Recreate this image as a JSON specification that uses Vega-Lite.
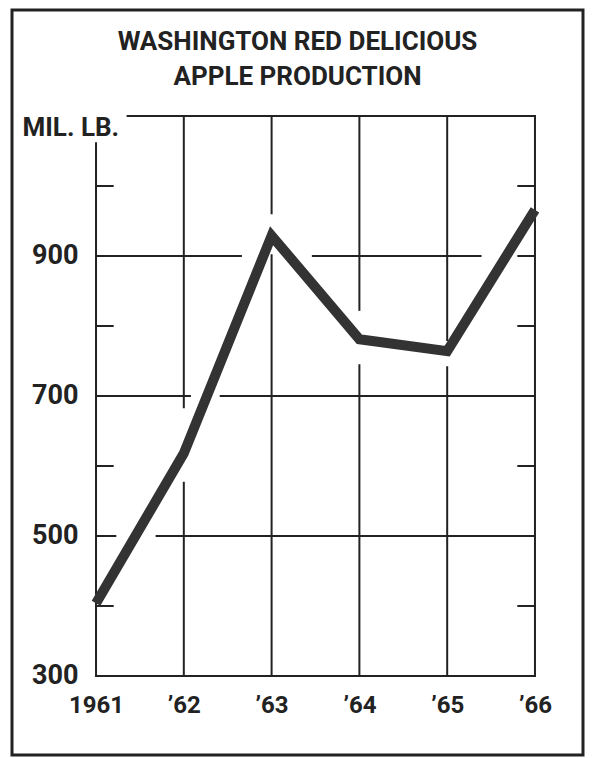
{
  "$schema": "https://vega.github.io/schema/vega-lite/v6.json",
  "width": 571,
  "height": 745,
  "autosize": {"type": "none"},
  "padding": {"left": 12, "top": 10, "right": 9, "bottom": 3},
  "background": "white",
  "config": {
    "view": {"stroke": "#222", "strokeWidth": 3},
    "font": "Roboto"
  },
  "title": {
    "text": ["WASHINGTON RED DELICIOUS", "APPLE PRODUCTION"],
    "frame": "group",
    "anchor": "middle",
    "orient": "top",
    "baseline": "top",
    "offset": -80,
    "lineHeight": 35,
    "fontSize": 26,
    "fontWeight": "bold",
    "color": "#222",
    "font": "Roboto"
  },
  "datasets": {
    "production": [
      {"year": 1961, "lbs": 404},
      {"year": 1962, "lbs": 618},
      {"year": 1963, "lbs": 929},
      {"year": 1964, "lbs": 781},
      {"year": 1965, "lbs": 764},
      {"year": 1966, "lbs": 966}
    ],
    "grid": [
      {"x1": 1961.36, "x2": 1966, "y1": 1100, "y2": 1100},
      {"x1": 1961, "x2": 1962.65, "y1": 900, "y2": 900},
      {"x1": 1963.47, "x2": 1965.38, "y1": 900, "y2": 900},
      {"x1": 1965.81, "x2": 1966, "y1": 900, "y2": 900},
      {"x1": 1961, "x2": 1962.07, "y1": 700, "y2": 700},
      {"x1": 1962.42, "x2": 1966, "y1": 700, "y2": 700},
      {"x1": 1961, "x2": 1961.22, "y1": 500, "y2": 500},
      {"x1": 1961.69, "x2": 1966, "y1": 500, "y2": 500},
      {"x1": 1961, "x2": 1966, "y1": 300, "y2": 300},
      {"x1": 1961, "x2": 1961.19, "y1": 400, "y2": 400},
      {"x1": 1961, "x2": 1961.19, "y1": 600, "y2": 600},
      {"x1": 1961, "x2": 1961.19, "y1": 800, "y2": 800},
      {"x1": 1961, "x2": 1961.19, "y1": 1000, "y2": 1000},
      {"x1": 1965.81, "x2": 1966, "y1": 400, "y2": 400},
      {"x1": 1965.81, "x2": 1966, "y1": 600, "y2": 600},
      {"x1": 1965.81, "x2": 1966, "y1": 800, "y2": 800},
      {"x1": 1965.81, "x2": 1966, "y1": 1000, "y2": 1000},
      {"x1": 1961, "x2": 1961, "y1": 300, "y2": 1061},
      {"x1": 1962, "x2": 1962, "y1": 300, "y2": 576},
      {"x1": 1962, "x2": 1962, "y1": 684, "y2": 1100},
      {"x1": 1963, "x2": 1963, "y1": 300, "y2": 901},
      {"x1": 1963, "x2": 1963, "y1": 961, "y2": 1100},
      {"x1": 1964, "x2": 1964, "y1": 300, "y2": 744},
      {"x1": 1964, "x2": 1964, "y1": 823, "y2": 1100},
      {"x1": 1965, "x2": 1965, "y1": 300, "y2": 741},
      {"x1": 1965, "x2": 1965, "y1": 780, "y2": 1100},
      {"x1": 1966, "x2": 1966, "y1": 300, "y2": 1100}
    ]
  },
  "layer": [
    {
      "data": {"name": "grid"},
      "mark": {"type": "rule", "color": "#222", "strokeWidth": 2, "strokeCap": "square"},
      "encoding": {
        "x": {
          "field": "x1",
          "type": "quantitative",
          "scale": {"domain": [1960.043, 1966.547], "nice": false, "zero": false},
          "axis": {
            "orient": "bottom",
            "offset": -79,
            "values": [1961, 1962, 1963, 1964, 1965, 1966],
            "labelExpr": "datum.value == 1961 ? '1961' : '’' + substring(toString(datum.value), 2)",
            "domain": false,
            "ticks": false,
            "grid": false,
            "labelPadding": 17,
            "labelFontSize": 24,
            "labelFontWeight": "bold",
            "labelColor": "#222",
            "labelFont": "Roboto",
            "title": null
          }
        },
        "x2": {"field": "x2"},
        "y": {
          "field": "y1",
          "type": "quantitative",
          "scale": {"domain": [187.1, 1251.4], "nice": false, "zero": false},
          "axis": {
            "orient": "left",
            "offset": -84,
            "values": [300, 500, 700, 900],
            "domain": false,
            "ticks": false,
            "grid": false,
            "labelPadding": 18,
            "labelFontSize": 27,
            "labelFontWeight": "bold",
            "labelColor": "#222",
            "labelBaseline": "middle",
            "labelFont": "Roboto",
            "title": "MIL. LB.",
            "titleAngle": 0,
            "titleAlign": "left",
            "titleBaseline": "alphabetic",
            "titleX": -74,
            "titleY": 125,
            "titleFontSize": 26,
            "titleFontWeight": "bold",
            "titleColor": "#222",
            "titleFont": "Roboto"
          }
        },
        "y2": {"field": "y2"}
      }
    },
    {
      "data": {"name": "production"},
      "mark": {"type": "line", "color": "#333", "strokeWidth": 10, "strokeJoin": "miter", "strokeCap": "butt"},
      "encoding": {
        "x": {"field": "year", "type": "quantitative"},
        "y": {"field": "lbs", "type": "quantitative"}
      }
    }
  ]
}
